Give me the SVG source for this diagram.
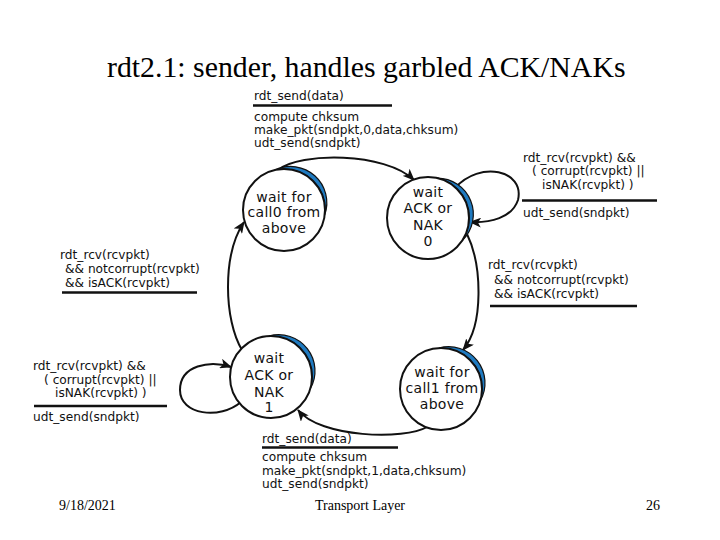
<svg xmlns="http://www.w3.org/2000/svg" width="720" height="540" viewBox="0 0 720 540">
<style>
.bg{fill:#fff}
.lbl{font-family:"DejaVu Sans","Liberation Sans",sans-serif;font-size:12.2px;fill:#111}
.st{font-family:"DejaVu Sans","Liberation Sans",sans-serif;font-size:14px;letter-spacing:0.3px;fill:#111;text-anchor:middle}
.ser{font-family:"Liberation Serif","Times New Roman",serif;fill:#000}
.circ{fill:#fff;stroke:#111;stroke-width:2}
.shade{fill:#1f7ac0;stroke:#111;stroke-width:1.2}
.bar{stroke:#111;stroke-width:2.5}
.edge{fill:none;stroke:#111;stroke-width:2;marker-end:url(#ah)}
</style>
<defs>
<marker id="ah" markerUnits="userSpaceOnUse" markerWidth="12" markerHeight="10" refX="11" refY="5" orient="auto">
<path d="M0,0 L12,5 L0,10 L3,5 Z" fill="#111"/>
</marker>
<path id="cres" d="M23.52,-33.59 A41,41 0 0 1 23.52,33.59 A36.3,36.3 0 0 0 23.52,-33.59 Z"/>
</defs>
<rect class="bg" x="0" y="0" width="720" height="540"/>
<text class="ser" x="107" y="77" font-size="29.8">rdt2.1: sender, handles garbled ACK/NAKs</text>

<g id="connectors">
<path class="edge" d="M278,170 C300,152 385,152 414,180"/>
<path class="edge" d="M455,188 C480,160 525,170 518,200 C512,218 490,223 470,222"/>
<path class="edge" d="M467,234 C482,265 484,325 463,350"/>
<path class="edge" d="M427,427 C405,440 320,438 298,410"/>
<path class="edge" d="M241,402 C220,420 180,415 180,390 C180,365 210,360 231,367"/>
<path class="edge" d="M242,350 C224,320 222,255 244,222"/>
</g>

<g id="wait-call0">
<use href="#cres" class="shade" transform="translate(284,210) rotate(-48)"/>
<circle class="circ" cx="284" cy="210" r="41"/>
<text class="st" x="284" y="201.5">wait for</text>
<text class="st" x="284" y="217">call0 from</text>
<text class="st" x="284" y="233">above</text>
</g>

<g id="wait-ack0">
<use href="#cres" class="shade" transform="translate(428,218) rotate(-22)"/>
<circle class="circ" cx="428" cy="218" r="41"/>
<text class="st" x="428" y="197">wait</text>
<text class="st" x="428" y="213">ACK or</text>
<text class="st" x="428" y="230">NAK</text>
<text class="st" x="428" y="246">0</text>
</g>

<g id="wait-ack1">
<use href="#cres" class="shade" transform="translate(271,377) rotate(-38)"/>
<circle class="circ" cx="271" cy="377" r="41"/>
<text class="st" x="269" y="363">wait</text>
<text class="st" x="269" y="380">ACK or</text>
<text class="st" x="269" y="396.5">NAK</text>
<text class="st" x="269" y="411.5">1</text>
</g>

<g id="wait-call1">
<use href="#cres" class="shade" transform="translate(441,389) rotate(-38)"/>
<circle class="circ" cx="441" cy="389" r="41"/>
<text class="st" x="442" y="377">wait for</text>
<text class="st" x="442" y="393">call1 from</text>
<text class="st" x="442" y="409">above</text>
</g>

<g id="label-send0">
<text class="lbl" x="254" y="100">rdt_send(data)</text>
<line class="bar" x1="253" y1="105.5" x2="392" y2="105.5"/>
<text class="lbl" x="254" y="120.5">compute chksum</text>
<text class="lbl" x="254" y="133.5">make_pkt(sndpkt,0,data,chksum)</text>
<text class="lbl" x="254" y="147">udt_send(sndpkt)</text>
</g>

<g id="label-resend0">
<text class="lbl" x="523" y="161.5">rdt_rcv(rcvpkt) &amp;&amp;</text>
<text class="lbl" x="532" y="175">( corrupt(rcvpkt) ||</text>
<text class="lbl" x="542" y="188.5">isNAK(rcvpkt) )</text>
<line class="bar" x1="522" y1="200.5" x2="657" y2="200.5"/>
<text class="lbl" x="523" y="217">udt_send(sndpkt)</text>
</g>

<g id="label-ack0">
<text class="lbl" x="488" y="269">rdt_rcv(rcvpkt)</text>
<text class="lbl" x="494" y="284">&amp;&amp; notcorrupt(rcvpkt)</text>
<text class="lbl" x="494" y="298">&amp;&amp; isACK(rcvpkt)</text>
<line class="bar" x1="490" y1="306" x2="637" y2="306"/>
</g>

<g id="label-ack1">
<text class="lbl" x="60" y="259">rdt_rcv(rcvpkt)</text>
<text class="lbl" x="65" y="273">&amp;&amp; notcorrupt(rcvpkt)</text>
<text class="lbl" x="65" y="287">&amp;&amp; isACK(rcvpkt)</text>
<line class="bar" x1="62" y1="292.5" x2="197" y2="292.5"/>
</g>

<g id="label-resend1">
<text class="lbl" x="33" y="370">rdt_rcv(rcvpkt) &amp;&amp;</text>
<text class="lbl" x="44" y="383.5">( corrupt(rcvpkt) ||</text>
<text class="lbl" x="55" y="397">isNAK(rcvpkt) )</text>
<line class="bar" x1="34" y1="406" x2="167" y2="406"/>
<text class="lbl" x="33" y="421">udt_send(sndpkt)</text>
</g>

<g id="label-send1">
<text class="lbl" x="262" y="443">rdt_send(data)</text>
<line class="bar" x1="262" y1="447.5" x2="398" y2="447.5"/>
<text class="lbl" x="262" y="461">compute chksum</text>
<text class="lbl" x="262" y="475">make_pkt(sndpkt,1,data,chksum)</text>
<text class="lbl" x="262" y="488">udt_send(sndpkt)</text>
</g>

<text class="ser" x="59" y="510" font-size="14">9/18/2021</text>
<text class="ser" x="360" y="510" font-size="14" text-anchor="middle">Transport Layer</text>
<text class="ser" x="646" y="510" font-size="14">26</text>
</svg>
